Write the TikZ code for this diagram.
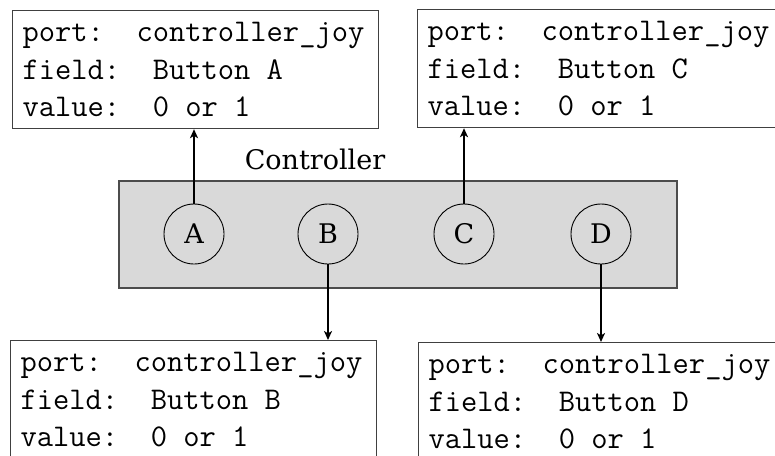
\documentclass[tikz,border=0pt]{standalone}
\usepackage{fontspec}
\newfontfamily\labelfont{DejaVu Serif}
\usetikzlibrary{arrows.meta}
\newcommand\ttgap{\hphantom{x}}
\begin{document}
\begin{tikzpicture}[x=0.5pt,y=-0.5pt,
  infobox/.style={draw=black!75, line width=0.6pt, anchor=north west,
    text width=173pt, minimum height=59pt, align=left, inner xsep=5pt,
    font=\fontsize{15.8}{18.6}\selectfont\ttfamily},
  panel/.style={draw=black!70, line width=0.6pt, fill=black!15,
    minimum width=279pt, minimum height=53.5pt, inner sep=0pt},
  button/.style={circle, draw=black, line width=0.45pt, minimum size=30pt,
    inner sep=0pt, font=\labelfont\fontsize{13.5}{16}\selectfont},
  title/.style={font=\labelfont\fontsize{13.5}{16}\selectfont, inner sep=0pt},
  link/.style={line width=0.9pt, -{Stealth[length=4.5pt,width=4pt,inset=1.2pt]}}
]
\useasboundingbox (0,0) rectangle (775,455);
\clip (0,0) rectangle (775,455);

\node (panel) [panel] at (398,234.5) {};
\node (title) [title] at (315,159) {Controller};

\node (A) [button] at (194,234) {A};
\node (B) [button] at (328,234) {B};
\node (C) [button] at (464,234) {C};
\node (D) [button] at (601,234) {D};

\node (ba) [infobox] at (12,10)
  {port:\ttgap\ttgap controller\_joy\\field:\ttgap\ttgap Button\ttgap A\\value:\ttgap\ttgap 0\ttgap or\ttgap 1};
\node (bc) [infobox] at (417,9)
  {port:\ttgap\ttgap controller\_joy\\field:\ttgap\ttgap Button\ttgap C\\value:\ttgap\ttgap 0\ttgap or\ttgap 1};
\node (bb) [infobox] at (10,340)
  {port:\ttgap\ttgap controller\_joy\\field:\ttgap\ttgap Button\ttgap B\\value:\ttgap\ttgap 0\ttgap or\ttgap 1};
\node (bd) [infobox] at (418,342)
  {port:\ttgap\ttgap controller\_joy\\field:\ttgap\ttgap Button\ttgap D\\value:\ttgap\ttgap 0\ttgap or\ttgap 1};

\draw[link] (A.north) -- (A.north |- ba.south);
\draw[link] (C.north) -- (C.north |- bc.south);
\draw[link] (B.south) -- (B.south |- bb.north);
\draw[link] (D.south) -- (D.south |- bd.north);
\end{tikzpicture}
\end{document}
